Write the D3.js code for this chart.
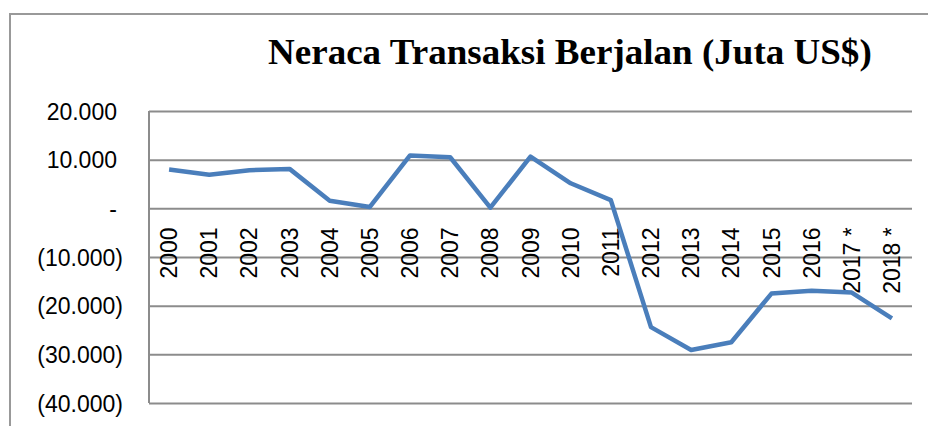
<!DOCTYPE html>
<html>
<head>
<meta charset="utf-8">
<script src="https://cdn.jsdelivr.net/npm/d3@7"></script>
<style>
  body { margin: 0; background: #fff; }
  svg { display: block; }
</style>
</head>
<body>
<svg id="chart" width="928" height="426"></svg>
<script>
// data (Juta US$)
var years = ["2000", "2001", "2002", "2003", "2004", "2005", "2006", "2007", "2008", "2009",
  "2010", "2011", "2012", "2013", "2014", "2015", "2016", "2017 *", "2018 *"];
var values = [7992, 6900, 7824, 8107, 1563, 278, 10860, 10493, 126, 10628,
  5144, 1685, -24418, -29109, -27510, -17519, -16952, -17300, -22600];
var yTicks = [20000, 10000, 0, -10000, -20000, -30000, -40000];
var title = "Neraca Transaksi Berjalan (Juta US$)";

var margin = { top: 111, right: 16, bottom: 23, left: 149 },
  width = 928 - margin.left - margin.right,
  height = 426 - margin.top - margin.bottom;

var svg = d3.select("#chart");

// outer chart frame (runs off the picture on right/bottom)
svg.append("rect")
  .attr("x", 10).attr("y", 14)
  .attr("width", 940).attr("height", 440)
  .attr("fill", "none")
  .attr("stroke", "#999")
  .attr("stroke-width", 2);

// title: stretch horizontally to the width seen in the picture
var t = svg.append("text")
  .attr("x", 0).attr("y", 0)
  .style("font-family", "'Liberation Serif', 'Times New Roman', serif")
  .style("font-weight", "bold")
  .style("font-size", "35px")
  .attr("fill", "#000")
  .text(title);
var tl = t.node().getComputedTextLength();
t.attr("transform", "translate(268,64) scale(" + (604 / tl) + ",1)");

var g = svg.append("g")
  .attr("transform", "translate(" + margin.left + "," + margin.top + ")");

var x = d3.scaleBand().domain(years).range([0, width]);
var y = d3.scaleLinear().domain([-40000, 20000]).range([height, 0]);

var fmt = function (d) {
  if (d === 0) return "-";
  var s = d3.format(",")(Math.abs(d)).replace(/,/g, ".");
  return d < 0 ? "(" + s + ")" : s;
};

// gridlines + y labels
var yAxis = g.append("g")
  .call(d3.axisLeft(y).tickValues(yTicks).tickFormat(fmt).tickSize(-width).tickPadding(0));
yAxis.select(".domain").remove();
yAxis.selectAll(".tick line")
  .attr("stroke", "#8c8c8c")
  .attr("stroke-width", 2);
yAxis.selectAll(".tick text")
  .attr("x", function (d) { return d < 0 ? -26 : -32; })
  .attr("dy", "0.35em")
  .attr("fill", "#000")
  .style("font-family", "'Liberation Sans', Arial, sans-serif")
  .style("font-size", "23px");

// vertical axis line
g.append("line")
  .attr("x1", 0).attr("x2", 0)
  .attr("y1", 0).attr("y2", height)
  .attr("stroke", "#8c8c8c")
  .attr("stroke-width", 2);

// category labels hanging below the zero line
var xAxis = g.append("g")
  .attr("transform", "translate(0," + y(0) + ")")
  .call(d3.axisBottom(x).tickSize(0));
xAxis.select(".domain").remove();
xAxis.selectAll(".tick text")
  .attr("transform", "rotate(-90)")
  .attr("x", -19)
  .attr("y", 0)
  .attr("dy", "0.35em")
  .style("text-anchor", "end")
  .attr("fill", "#000")
  .style("font-family", "'Liberation Sans', Arial, sans-serif")
  .style("font-size", "23px");

var line = d3.line()
  .x(function (d, i) { return x(years[i]) + x.bandwidth() / 2; })
  .y(function (d) { return y(d); });

g.append("path")
  .datum(values)
  .attr("d", line)
  .attr("fill", "none")
  .attr("stroke", "#4a7ebb")
  .attr("stroke-width", 4.5)
  .attr("stroke-linejoin", "round");
</script>
</body>
</html>
